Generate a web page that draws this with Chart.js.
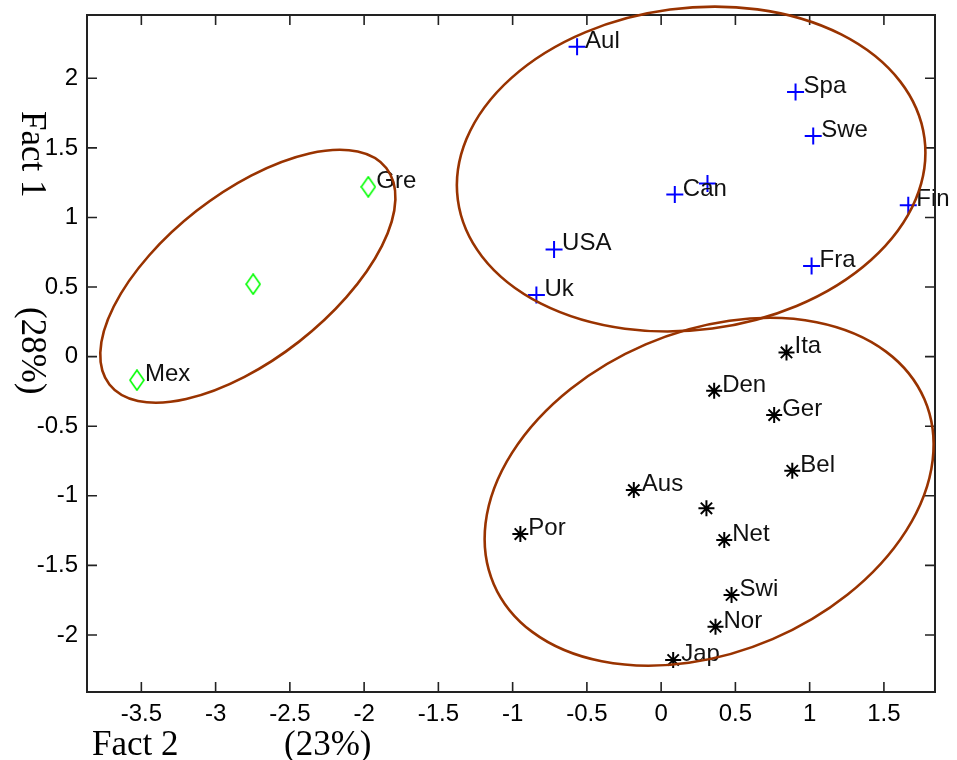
<!DOCTYPE html>
<html>
<head>
<meta charset="utf-8">
<script src="https://cdn.jsdelivr.net/npm/chart.js@4.4.1/dist/chart.umd.min.js"></script>
<style>
  html, body { margin:0; padding:0; background:#fff; }
  #wrap { width:957px; height:760px; position:relative; }
</style>
</head>
<body>
<div id="wrap"><canvas id="factChart"></canvas></div>
<script>
// --- DATA ---
const greenX = [-3.53, -2.747, -1.972];
const greenY = [-0.169, 0.521, 1.22];
const greenLabels = ['Mex', '', 'Gre'];

const blueX = [-0.566, 0.905, 1.024, 0.092, 0.312, 1.664, -0.721, -0.84, 1.013];
const blueY = [2.226, 1.902, 1.586, 1.165, 1.244, 1.088, 0.77, 0.442, 0.652];
const blueLabels = ['Aul', 'Spa', 'Swe', 'Can', '', 'Fin', 'USA', 'Uk', 'Fra'];

const blackX = [0.844, 0.357, 0.761, 0.883, -0.184, 0.305, -0.948, 0.425, 0.474, 0.366, 0.081];
const blackY = [0.03, -0.246, -0.42, -0.82, -0.959, -1.09, -1.275, -1.318, -1.713, -1.941, -2.18];
const blackLabels = ['Ita', 'Den', 'Ger', 'Bel', 'Aus', '', 'Por', 'Net', 'Swi', 'Nor', 'Jap'];

// group ellipses: centre, end of first semi-axis, end of second semi-axis (data units)
const ellipseCenterX = [-2.783, 0.202, 0.323];
const ellipseCenterY = [0.578, 1.348, -0.971];
const ellipseAxis1X = [-1.851, 1.773, 1.773];
const ellipseAxis1Y = [1.356, 1.570, -0.307];
const ellipseAxis2X = [-2.438, 0.344, 0.750];
const ellipseAxis2Y = [0.108, 0.202, -2.030];

const xTickValues = [-3.5, -3, -2.5, -2, -1.5, -1, -0.5, 0, 0.5, 1, 1.5];
const yTickValues = [-2, -1.5, -1, -0.5, 0, 0.5, 1, 1.5, 2];
const xTitleParts = ['Fact 2', '(23%)'];
const yTitleParts = ['Fact 1', '(28%)'];

// --- STYLE ---
const TICK_FONT = '24px "Liberation Sans", Arial, sans-serif';
const TITLE_FONT = '35px "Liberation Serif", "Times New Roman", serif';
const ELLIPSE_COLOR = '#993300';

const toPoints = (xs, ys) => xs.map((x, i) => ({ x, y: ys[i] }));

// matlab-like open diamond marker
function makeDiamond(){
    const c = document.createElement('canvas');
    c.width = 16; c.height = 22;
    const g = c.getContext('2d');
    g.strokeStyle = '#00ff00';
    g.lineWidth = 1.6;
    g.beginPath();
    g.moveTo(8, 1); g.lineTo(15, 11); g.lineTo(8, 21); g.lineTo(1, 11); g.closePath();
    g.stroke();
    return c;
}

// --- PLUGINS ---
const boxAndTicks = {
    id: 'boxAndTicks',
    afterDraw(chart){
        const { ctx, chartArea: a, scales } = chart;
        ctx.save();
        ctx.strokeStyle = '#222';
        ctx.lineWidth = 1.6;
        ctx.beginPath();
        xTickValues.forEach(v => {
            const px = scales.x.getPixelForValue(v);
            ctx.moveTo(px, a.bottom); ctx.lineTo(px, a.bottom - 10);
            ctx.moveTo(px, a.top); ctx.lineTo(px, a.top + 10);
        });
        yTickValues.forEach(v => {
            const py = scales.y.getPixelForValue(v);
            ctx.moveTo(a.left, py); ctx.lineTo(a.left + 10, py);
            ctx.moveTo(a.right, py); ctx.lineTo(a.right - 10, py);
        });
        ctx.stroke();
        ctx.lineWidth = 2;
        ctx.strokeRect(a.left, a.top, a.right - a.left, a.bottom - a.top);

        // axis titles
        ctx.fillStyle = '#000';
        ctx.font = TITLE_FONT;
        ctx.textAlign = 'left';
        ctx.textBaseline = 'alphabetic';
        ctx.fillText(xTitleParts[0], a.left + 5, 755);
        ctx.fillText(xTitleParts[1], a.left + 197, 755);
        [[yTitleParts[0], 111], [yTitleParts[1], 307]].forEach(([t, y]) => {
            ctx.save();
            ctx.translate(22, y);
            ctx.rotate(Math.PI / 2);
            ctx.fillText(t, 0, 0);
            ctx.restore();
        });
        ctx.restore();
    }
};

const pointLabels = {
    id: 'pointLabels',
    afterDatasetsDraw(chart){
        const { ctx } = chart;
        ctx.save();
        ctx.font = TICK_FONT;
        ctx.fillStyle = '#111';
        ctx.textAlign = 'left';
        ctx.textBaseline = 'alphabetic';
        chart.data.datasets.forEach((ds, di) => {
            const meta = chart.getDatasetMeta(di);
            meta.data.forEach((pt, i) => {
                const label = ds.pointLabels[i];
                if(label) ctx.fillText(label, pt.x + 8, pt.y + 1);
            });
        });
        ctx.restore();
    }
};

const groupEllipses = {
    id: 'groupEllipses',
    afterDraw(chart){
        const { ctx, scales } = chart;
        const xs = scales.x, ys = scales.y;
        ctx.save();
        ctx.strokeStyle = ELLIPSE_COLOR;
        ctx.lineWidth = 2.6;
        ellipseCenterX.forEach((cx, i) => {
            const cpx = xs.getPixelForValue(cx), cpy = ys.getPixelForValue(ellipseCenterY[i]);
            const ux = xs.getPixelForValue(ellipseAxis1X[i]) - cpx, uy = ys.getPixelForValue(ellipseAxis1Y[i]) - cpy;
            const vx = xs.getPixelForValue(ellipseAxis2X[i]) - cpx, vy = ys.getPixelForValue(ellipseAxis2Y[i]) - cpy;
            ctx.save();
            ctx.beginPath();
            ctx.transform(ux, uy, vx, vy, cpx, cpy);
            ctx.arc(0, 0, 1, 0, Math.PI * 2);
            ctx.restore();
            ctx.stroke();
        });
        ctx.restore();
    }
};

// --- CHART ---
const ctx = document.getElementById('factChart');
new Chart(ctx, {
    type: 'scatter',
    data: {
        datasets: [
            { data: toPoints(greenX, greenY), pointLabels: greenLabels, pointStyle: makeDiamond(),
              pointRadius: 10, borderColor: '#00ff00', backgroundColor: 'transparent' },
            { data: toPoints(blueX, blueY), pointLabels: blueLabels, pointStyle: 'cross',
              pointRadius: 8.5, pointBorderWidth: 2, borderColor: '#0000ff', backgroundColor: '#0000ff' },
            { data: toPoints(blackX, blackY), pointLabels: blackLabels, pointStyle: 'star',
              pointRadius: 8, pointBorderWidth: 2, borderColor: '#000', backgroundColor: '#000' }
        ]
    },
    options: {
        responsive: true,
        maintainAspectRatio: false,
        animation: false,
        events: [],
        clip: false,
        layout: { padding: { left: 0, top: 15, right: 22, bottom: 0 } },
        plugins: { legend: { display: false }, tooltip: { enabled: false } },
        scales: {
            x: {
                type: 'linear', min: -3.866, max: 1.844,
                afterBuildTicks: s => { s.ticks = xTickValues.map(v => ({ value: v })); },
                afterFit: s => { s.height = 68; s.paddingLeft = 0; s.paddingRight = 0; },
                ticks: { font: { family: '"Liberation Sans", Arial, sans-serif', size: 24 }, color: '#000', padding: 0,
                         callback: v => String(v) },
                grid: { display: false }, border: { display: false }
            },
            y: {
                type: 'linear', min: -2.41, max: 2.455,
                afterBuildTicks: s => { s.ticks = yTickValues.map(v => ({ value: v })); },
                afterFit: s => { s.width = 87; s.paddingTop = 0; s.paddingBottom = 0; },
                ticks: { font: { family: '"Liberation Sans", Arial, sans-serif', size: 24 }, color: '#000', padding: 1,
                         callback: v => String(v) },
                grid: { display: false }, border: { display: false }
            }
        }
    },
    plugins: [boxAndTicks, pointLabels, groupEllipses]
});
</script>
</body>
</html>
